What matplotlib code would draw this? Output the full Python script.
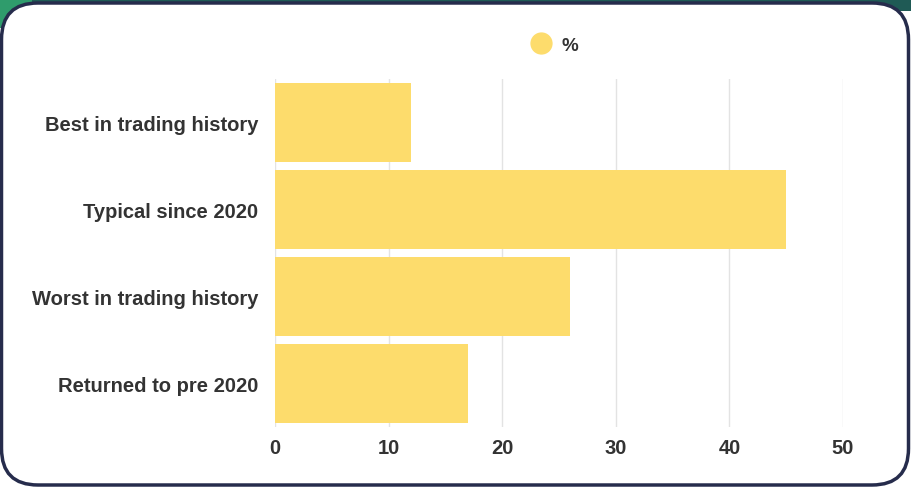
import matplotlib.pyplot as plt
from matplotlib.patches import FancyBboxPatch, Rectangle
from matplotlib.lines import Line2D

plt.rcParams['font.family'] = ['Liberation Sans', 'DejaVu Sans']

categories = ["Best in trading history", "Typical since 2020",
              "Worst in trading history", "Returned to pre 2020"]
values = [12, 45, 26, 17]
series_name = "%"
ticks = [0, 10, 20, 30, 40, 50]

bar_color = "#fddc6c"
text_color = "#333333"

fig = plt.figure(figsize=(9.12, 4.89), dpi=100)
fig.patch.set_facecolor("white")

# page background strip above the card
fig.patches.append(Rectangle((0, 0.975), 1, 0.025, transform=fig.transFigure,
                             facecolor="#1f5a55", edgecolor="none", zorder=0))
fig.patches.append(Rectangle((0, 0.94), 0.035, 0.06, transform=fig.transFigure,
                             facecolor="#2f9c6c", edgecolor="none", zorder=0))

# white card with rounded corners
card = FancyBboxPatch((1.5 / 912, 3 / 489), 907 / 912, 482 / 489,
                      boxstyle="round,pad=0,rounding_size=0.04",
                      mutation_aspect=912 / 489,
                      transform=fig.transFigure, facecolor="white",
                      edgecolor="#262c4c", linewidth=2.5, zorder=1)
fig.patches.append(card)

ax = fig.add_axes([275 / 912, 61 / 489, 568 / 912, 348 / 489])
ax.set_zorder(2)
ax.patch.set_alpha(0)

y = range(len(categories))
ax.barh(y, values, height=0.9, color=bar_color, zorder=3)
ax.set_yticks(list(y))
ax.set_yticklabels(categories)
ax.set_ylim(len(categories) - 0.5, -0.5)

ax.set_xlim(0, 50)
ax.set_xticks(ticks)
ax.xaxis.grid(True, color="#e3e3e3", linewidth=1, zorder=0)
ax.set_axisbelow(True)

for s in ax.spines.values():
    s.set_visible(False)
ax.tick_params(axis="both", length=0, colors=text_color, labelsize=14.5)
ax.tick_params(axis="y", pad=12)
ax.tick_params(axis="x", pad=8)
for lbl in ax.get_xticklabels() + ax.get_yticklabels():
    lbl.set_fontweight("bold")

handle = Line2D([], [], marker="o", linestyle="none", markersize=15,
                markerfacecolor=bar_color, markeredgecolor=bar_color)
fig.legend([handle], [series_name], loc="center", bbox_to_anchor=(0.603, 0.905),
           frameon=False, handletextpad=0.1,
           prop={"weight": "bold", "size": 13.5}, labelcolor=text_color)

fig.savefig("out.png", dpi=100)
